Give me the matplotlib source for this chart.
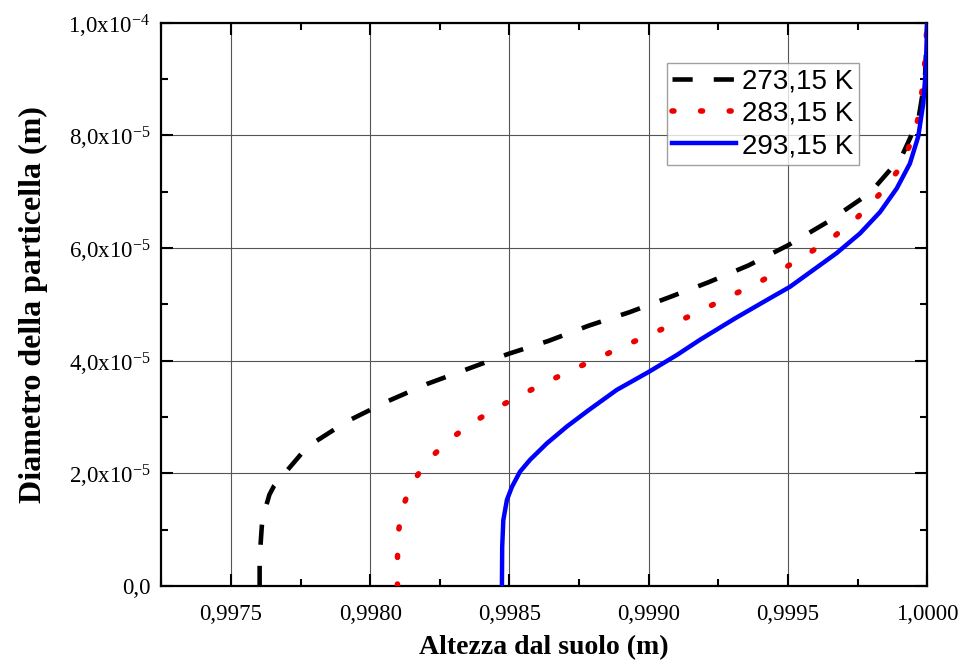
import matplotlib
matplotlib.use("Agg")
import matplotlib.pyplot as plt
from matplotlib.ticker import MultipleLocator, FixedLocator, FixedFormatter
import numpy as np

plt.rcParams["font.family"] = ["Liberation Serif", "DejaVu Serif"]
plt.rcParams["mathtext.fontset"] = "custom"
plt.rcParams["mathtext.rm"] = "Liberation Serif"
plt.rcParams["mathtext.it"] = "Liberation Serif:italic"
plt.rcParams["mathtext.bf"] = "Liberation Serif:bold"

# Altezza dal suolo (m) vs diametro della particella (in units of 1e-5 m)
x_273 = [0.997603, 0.997603, 0.997611, 0.997614, 0.997638, 0.997655, 0.997774,
         0.997916, 0.998063, 0.998206, 0.998354, 0.998496, 0.998640, 0.998784,
         0.998931, 0.999071, 0.999214, 0.999358, 0.999501, 0.999645, 0.999795,
         0.999908, 0.999968, 0.999992, 1.000000]
d_273 = [0.00, 0.50, 1.07, 1.21, 1.62, 1.78, 2.47,
         2.92, 3.28, 3.59, 3.86, 4.12, 4.35, 4.62,
         4.86, 5.12, 5.39, 5.69, 6.05, 6.47, 6.98,
         7.62, 8.27, 9.00, 10.00]

x_283 = [0.998098, 0.998098, 0.998100, 0.998114, 0.998145, 0.998203, 0.998285,
         0.998371, 0.998458, 0.998544, 0.998631, 0.998717, 0.998803, 0.998889,
         0.998975, 0.999062, 0.999146, 0.999316, 0.999406, 0.999493, 0.999579,
         0.999667, 0.999753, 0.999834, 0.999899, 0.999938, 0.999966, 0.999988,
         1.000000]
d_283 = [0.00, 0.50, 0.92, 1.35, 1.78, 2.21, 2.60,
         2.91, 3.17, 3.40, 3.61, 3.82, 4.01, 4.21,
         4.40, 4.59, 4.79, 5.20, 5.42, 5.66, 5.92,
         6.21, 6.56, 6.98, 7.40, 7.83, 8.27, 9.00,
         10.00]

x_293 = [0.998473, 0.998474, 0.998478, 0.998491, 0.998509, 0.998538, 0.998574,
         0.998634, 0.998706, 0.998784, 0.998885, 0.999000, 0.999101, 0.999184,
         0.999310, 0.999436, 0.999507, 0.999591, 0.999675, 0.999759, 0.999831,
         0.999891, 0.999938, 0.999968, 0.999986, 0.999995, 1.000000]
d_293 = [0.00, 0.70, 1.17, 1.53, 1.76, 2.03, 2.24,
         2.53, 2.83, 3.12, 3.48, 3.80, 4.10, 4.37,
         4.75, 5.11, 5.31, 5.61, 5.91, 6.26, 6.64,
         7.06, 7.50, 7.98, 8.57, 9.16, 10.00]

series_labels = ["273,15 K", "283,15 K", "293,15 K"]

x_ticks = [0.9975, 0.9980, 0.9985, 0.9990, 0.9995, 1.0000]
x_tick_labels = ["0,9975", "0,9980", "0,9985", "0,9990", "0,9995", "1,0000"]
y_ticks = [0.0, 2e-5, 4e-5, 6e-5, 8e-5, 1e-4]
y_tick_labels = ["0,0", "2,0x10$^{-5}$", "4,0x10$^{-5}$", "6,0x10$^{-5}$",
                 "8,0x10$^{-5}$", "1,0x10$^{-4}$"]

fig = plt.figure(figsize=(9.62, 6.71), dpi=100)
ax = fig.add_axes([0.1677, 0.1267, 0.7961, 0.8395])

scale = 1e-5
ax.plot(x_273, np.array(d_273) * scale, color="black", lw=3.3,
        dashes=(4.4, 4.6), label=series_labels[0], zorder=3)
ax.plot(x_283, np.array(d_283) * scale, color="#ee0000", lw=4.0,
        dashes=(0.35, 4.8), dash_capstyle="round", label=series_labels[1], zorder=4)
ax.plot(x_293, np.array(d_293) * scale, color="#0000ff", lw=3.2,
        label=series_labels[2], zorder=5)

ax.set_xlim(0.99725, 1.0)
ax.set_ylim(0.0, 1e-4)

ax.xaxis.set_major_locator(FixedLocator(x_ticks))
ax.xaxis.set_major_formatter(FixedFormatter(x_tick_labels))
ax.xaxis.set_minor_locator(MultipleLocator(0.00025))
ax.yaxis.set_major_locator(FixedLocator(y_ticks))
ax.yaxis.set_major_formatter(FixedFormatter(y_tick_labels))
ax.yaxis.set_minor_locator(MultipleLocator(1e-5))

ax.grid(True, which="major", color="#555555", lw=0.8, zorder=1)
ax.tick_params(which="both", direction="in", top=True, right=True,
               width=1.5, colors="black")
ax.tick_params(which="major", length=8.5, labelsize=16.5, pad=8)
ax.tick_params(which="minor", length=5)
ax.tick_params(axis="x", which="major", pad=13)
for sp in ax.spines.values():
    sp.set_linewidth(1.6)

ax.set_xlabel("Altezza dal suolo (m)", fontsize=20, fontweight="bold", labelpad=7)
ax.set_ylabel("Diametro della particella (m)", fontsize=23, fontweight="bold", labelpad=15)

leg = ax.legend(loc="upper left", bbox_to_anchor=(0.660, 0.928), borderaxespad=0,
                prop={"family": ["Liberation Sans", "DejaVu Sans"], "size": 20},
                frameon=True, fancybox=False, edgecolor="#888888",
                handlelength=2.3, handletextpad=0.2, labelspacing=0.22,
                borderpad=0.2)
leg.get_frame().set_linewidth(1.0)

fig.savefig("out.png", dpi=100)
